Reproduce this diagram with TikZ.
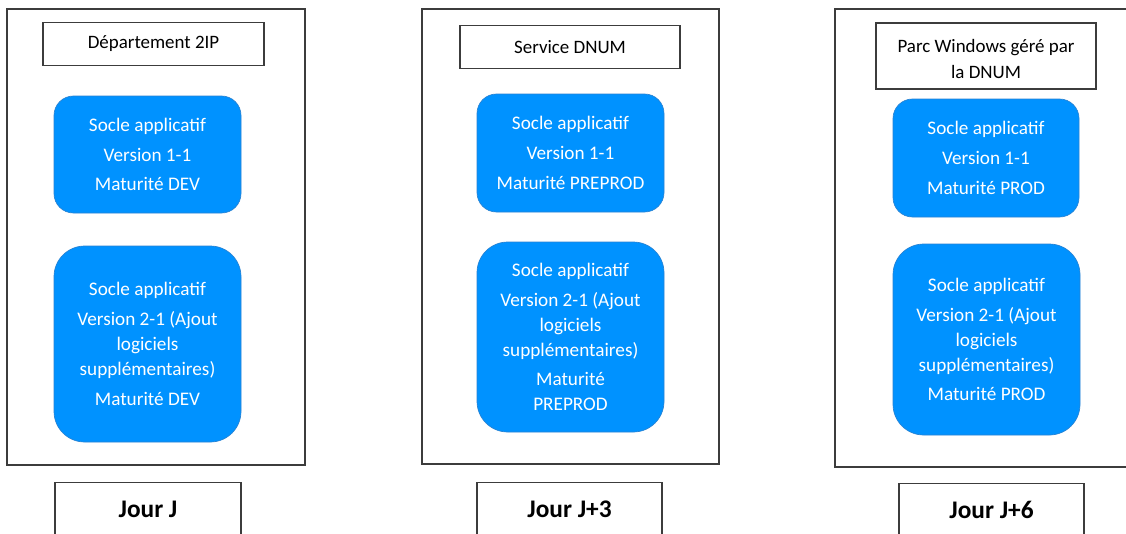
\documentclass[tikz,border=0pt]{standalone}
\usepackage{fontspec}
\setmainfont{Carlito}
\definecolor{socle}{RGB}{0,146,255}
\definecolor{socleedge}{RGB}{40,130,210}
\definecolor{frame}{RGB}{60,60,60}
\tikzset{
  panel/.style={draw=frame, line width=0.9pt},
  header/.style={draw=frame, line width=0.9pt, fill=white, align=center,
    font=\fontsize{14.2}{18}\selectfont, inner sep=0pt},
  headtext/.style={align=center, font=\fontsize{14.2}{18}\selectfont, inner sep=0pt},
  soclebox/.style={draw=socleedge, line width=0.5pt, fill=socle, text=white,
    align=center, font=\fontsize{14.4}{18.75}\selectfont, inner sep=0pt},
  daybox/.style={draw=frame, line width=0.9pt, fill=white, inner sep=0pt},
  daytext/.style={font=\bfseries\fontsize{19}{22}\selectfont},
}
\newcommand{\pgap}{\\[3.5pt]}
\begin{document}
\begin{tikzpicture}[x=0.75pt,y=-0.75pt]
\useasboundingbox (0,0) rectangle (1126,533);
\fill[white] (0,0) rectangle (1126,533);

% outer frames of the three stages
\draw[panel] (7,9) rectangle (305,465);
\draw[panel] (422,9) rectangle (719,464);
\draw[panel] (835,9) rectangle (1132,467);

% stage 1: Département 2IP
\node[header, minimum width=221*0.75pt, minimum height=43*0.75pt] (h1) at (153.5,44) {Département 2IP};
\node[soclebox, rounded corners=14.6pt, minimum width=187*0.75pt, minimum height=117*0.75pt] (a1) at (147.5,154.5)
  {Socle applicatif\pgap Version 1-1\pgap Maturité DEV};
\node[soclebox, rounded corners=23pt, minimum width=187*0.75pt, minimum height=196*0.75pt] (b1) at (147.5,344)
  {Socle applicatif\pgap Version 2-1 (Ajout\\ logiciels\\ supplémentaires)\pgap Maturité DEV};
\node[daybox, minimum width=186*0.75pt, minimum height=60*0.75pt, anchor=north] (d1) at (148,482) {};
\node[daytext] (t1) at (148,509) {Jour J};

% stage 2: Service DNUM
\node[header, minimum width=220*0.75pt, minimum height=43*0.75pt] (h2) at (570,47) {Service DNUM};
\node[soclebox, rounded corners=14.6pt, minimum width=187*0.75pt, minimum height=118*0.75pt] (a2) at (570.5,153)
  {Socle applicatif\pgap Version 1-1\pgap Maturité PREPROD};
\node[soclebox, rounded corners=23pt, minimum width=187*0.75pt, minimum height=190*0.75pt] (b2) at (570.5,337)
  {Socle applicatif\pgap Version 2-1 (Ajout\\ logiciels\\ supplémentaires)\pgap Maturité\\ PREPROD};
\node[daybox, minimum width=185*0.75pt, minimum height=60*0.75pt, anchor=north] (d2) at (569.5,482) {};
\node[daytext] (t2) at (569.5,509) {Jour J+3};

% stage 3: Parc Windows géré par la DNUM
\node[header, minimum width=220*0.75pt, minimum height=66*0.75pt] (h3) at (986,56) {};
\node[headtext] (h3t) at (986,58.5) {Parc Windows géré par\\[1.5pt] la DNUM};
\node[soclebox, rounded corners=14.6pt, minimum width=186*0.75pt, minimum height=118*0.75pt] (a3) at (986,158)
  {Socle applicatif\pgap Version 1-1\pgap Maturité PROD};
\node[soclebox, rounded corners=23pt, minimum width=187*0.75pt, minimum height=191*0.75pt] (b3) at (986.5,339.5)
  {Socle applicatif\pgap Version 2-1 (Ajout\\ logiciels\\ supplémentaires)\pgap Maturité PROD};
\node[daybox, minimum width=185*0.75pt, minimum height=60*0.75pt, anchor=north] (d3) at (991.5,483) {};
\node[daytext] (t3) at (991.5,510) {Jour J+6};
\end{tikzpicture}
\end{document}
